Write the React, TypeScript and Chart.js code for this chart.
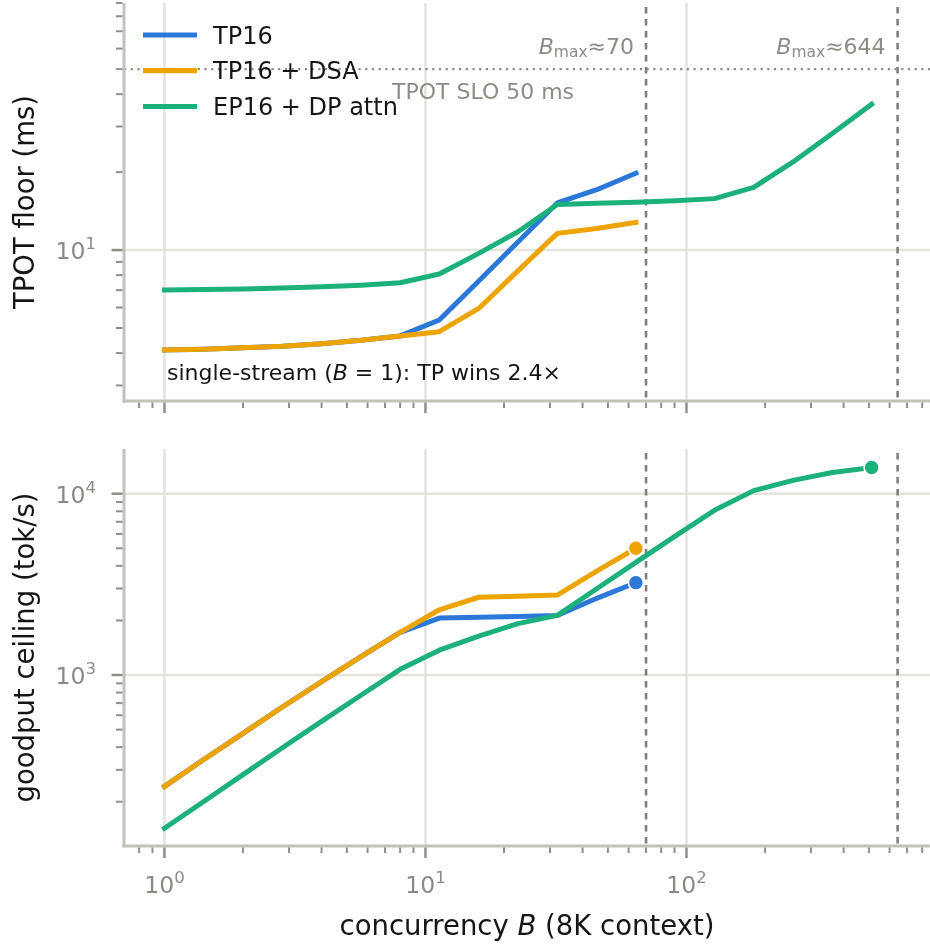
import React, { useEffect, useRef } from "react";
import { Chart, registerables } from "chart.js";

Chart.register(...registerables);

// ---------------- data ----------------
const B_TP = [1, 1.41, 2, 2.83, 4, 5.66, 8, 11.3, 16, 22.6, 32, 45.3, 64];
const B_EP = [1, 1.41, 2, 2.83, 4, 5.66, 8, 11.3, 16, 22.6, 32, 45.3, 64, 90.5, 128, 181, 256, 362, 512];

const TPOT_TP16 = [4.11, 4.14, 4.19, 4.25, 4.35, 4.48, 4.66, 5.37, 7.6, 10.74, 15.2, 17.1, 19.8];
const TPOT_TP16_DSA = [4.11, 4.14, 4.19, 4.25, 4.35, 4.48, 4.66, 4.84, 5.95, 8.31, 11.6, 12.12, 12.8];
const TPOT_EP16 = [7.01, 7.04, 7.08, 7.13, 7.21, 7.32, 7.48, 8.08, 9.71, 11.77, 15.0, 15.15, 15.3, 15.5, 15.8, 17.46, 21.9, 28.2, 36.6];

const GOODPUT_TP16 = [243, 341, 477, 666, 920, 1263, 1717, 2060, 2080, 2100, 2130, 2649, 3232];
const GOODPUT_TP16_DSA = [243, 341, 477, 666, 920, 1263, 1717, 2290, 2685, 2720, 2759, 3738, 5000];
const GOODPUT_EP16 = [142.7, 200, 282, 397, 555, 773, 1075, 1370, 1640, 1920, 2133, 2990, 4183, 5839, 8101, 10400, 11850, 13100, 13950];

const SERIES_NAMES = ["TP16", "TP16 + DSA", "EP16 + DP attn"];
const SERIES_COLORS = ["#2b78d9", "#eda300", "#1cb07a"];

const B_MAX = [70, 644];
const B_MAX_LABELS = ["70", "644"];
const TPOT_SLO = 50;

const X_RANGE = [0.724, 857];
const TOP_Y_RANGE = [2.612, 90];
const BOT_Y_RANGE = [114, 17645];

const X_MAJOR_EXP = [0, 1, 2];
const TOP_Y_MAJOR_EXP = [1];
const BOT_Y_MAJOR_EXP = [3, 4];

// ---------------- helpers ----------------
const FONT = (size: number, style = "") => `${style} ${size}px "DejaVu Sans"`;
const GRID = "#e4e4dc";
const SPINE = "#c2c2b9";
const TICK = "#8f8f8a";
const TICKLABEL = "#8a8a85";
const ANNOT = "#8c8c86";
const INK = "#151515";

type Run = { t: string; font: string; dy?: number };

function drawRuns(ctx: CanvasRenderingContext2D, runs: Run[], x: number, y: number, align: "left" | "center" | "right", color: string) {
  let w = 0;
  for (const r of runs) {
    ctx.font = r.font;
    w += ctx.measureText(r.t).width;
  }
  let cx = align === "left" ? x : align === "center" ? x - w / 2 : x - w;
  ctx.fillStyle = color;
  ctx.textAlign = "left";
  ctx.textBaseline = "alphabetic";
  for (const r of runs) {
    ctx.font = r.font;
    ctx.fillText(r.t, cx, y + (r.dy || 0));
    cx += ctx.measureText(r.t).width;
  }
}

function logTicks(min: number, max: number) {
  const out: { v: number; major: boolean }[] = [];
  for (let e = Math.floor(Math.log10(min)); e <= Math.ceil(Math.log10(max)); e++) {
    for (let m = 1; m < 10; m++) {
      const v = m * Math.pow(10, e);
      if (v >= min && v <= max) out.push({ v, major: m === 1 });
    }
  }
  return out;
}

function powLabel(e: number): Run[] {
  return [
    { t: "10", font: FONT(23.5) },
    { t: String(e), font: FONT(16.5), dy: -10 },
  ];
}

function line(ctx: CanvasRenderingContext2D, x1: number, y1: number, x2: number, y2: number) {
  ctx.beginPath();
  ctx.moveTo(x1, y1);
  ctx.lineTo(x2, y2);
  ctx.stroke();
}

function drawBackground(chart: any, yMajorExp: number[], withSlo: boolean) {
  const ctx: CanvasRenderingContext2D = chart.ctx;
  const a = chart.chartArea;
  const xs = chart.scales.x;
  const ys = chart.scales.y;
  ctx.save();
  ctx.strokeStyle = GRID;
  ctx.lineWidth = 2.5;
  for (const e of X_MAJOR_EXP) {
    const px = xs.getPixelForValue(Math.pow(10, e));
    line(ctx, px, a.top, px, a.bottom);
  }
  for (const e of yMajorExp) {
    const py = ys.getPixelForValue(Math.pow(10, e));
    line(ctx, a.left, py, a.right, py);
  }
  // B_max dashed lines
  ctx.strokeStyle = "#7f7f7f";
  ctx.lineWidth = 2.6;
  ctx.setLineDash([6.5, 5.5]);
  for (const b of B_MAX) {
    const px = xs.getPixelForValue(b);
    line(ctx, px, a.top + 4, px, a.bottom);
  }
  if (withSlo) {
    ctx.strokeStyle = "#8a8a8a";
    ctx.lineWidth = 2.2;
    ctx.setLineDash([2.2, 4.5]);
    const py = ys.getPixelForValue(TPOT_SLO);
    line(ctx, a.left, py, a.right, py);
  }
  ctx.restore();
}

function drawAxes(chart: any, yMajorExp: number[], yRange: number[], xLabels: boolean) {
  const ctx: CanvasRenderingContext2D = chart.ctx;
  const a = chart.chartArea;
  const xs = chart.scales.x;
  const ys = chart.scales.y;
  ctx.save();
  // spines
  ctx.strokeStyle = SPINE;
  ctx.lineWidth = 3;
  ctx.lineCap = "butt";
  line(ctx, a.left, a.top, a.left, a.bottom + 1.5);
  line(ctx, a.left - 1.5, a.bottom, a.right, a.bottom);
  // ticks
  ctx.strokeStyle = TICK;
  for (const t of logTicks(X_RANGE[0], X_RANGE[1])) {
    const px = xs.getPixelForValue(t.v);
    ctx.lineWidth = t.major ? 2.5 : 2;
    line(ctx, px, a.bottom + 1.5, px, a.bottom + 1.5 + (t.major ? 10.5 : 5.5));
  }
  for (const t of logTicks(yRange[0], yRange[1])) {
    const py = ys.getPixelForValue(t.v);
    ctx.lineWidth = t.major ? 2.5 : 2;
    line(ctx, a.left - 1.5, py, a.left - 1.5 - (t.major ? 11 : 6.5), py);
  }
  // tick labels
  for (const e of yMajorExp) {
    const py = ys.getPixelForValue(Math.pow(10, e));
    drawRuns(ctx, powLabel(e), 96, py + 9, "right", TICKLABEL);
  }
  if (xLabels) {
    for (const e of X_MAJOR_EXP) {
      const px = xs.getPixelForValue(Math.pow(10, e));
      drawRuns(ctx, powLabel(e), px, a.bottom + 47, "center", TICKLABEL);
    }
  }
  ctx.restore();
}

function drawYTitle(chart: any, text: string) {
  const ctx: CanvasRenderingContext2D = chart.ctx;
  const a = chart.chartArea;
  ctx.save();
  ctx.translate(34, (a.top + a.bottom) / 2);
  ctx.rotate(-Math.PI / 2);
  ctx.font = FONT(27.5);
  ctx.fillStyle = INK;
  ctx.textAlign = "center";
  ctx.textBaseline = "alphabetic";
  ctx.fillText(text, 0, 0);
  ctx.restore();
}

const topPlugin = {
  id: "topDecor",
  beforeDatasetsDraw(chart: any) {
    drawBackground(chart, TOP_Y_MAJOR_EXP, true);
  },
  afterDatasetsDraw(chart: any) {
    const ctx: CanvasRenderingContext2D = chart.ctx;
    const xs = chart.scales.x;
    const ys = chart.scales.y;
    drawAxes(chart, TOP_Y_MAJOR_EXP, TOP_Y_RANGE, false);
    drawYTitle(chart, "TPOT floor (ms)");
    ctx.save();
    // B_max labels
    B_MAX.forEach((b, i) => {
      const px = xs.getPixelForValue(b);
      drawRuns(
        ctx,
        [
          { t: "B", font: FONT(22, "italic") },
          { t: "max", font: FONT(15.5), dy: 3.5 },
          { t: "≈" + B_MAX_LABELS[i], font: FONT(22) },
        ],
        px - 12,
        53.5,
        "right",
        ANNOT
      );
    });
    // SLO label
    const sloY = ys.getPixelForValue(TPOT_SLO);
    drawRuns(ctx, [{ t: "TPOT SLO " + TPOT_SLO + " ms", font: FONT(22) }], 392, sloY + 30, "left", ANNOT);
    // single-stream note
    drawRuns(
      ctx,
      [
        { t: "single-stream (", font: FONT(22) },
        { t: "B", font: FONT(22, "italic") },
        { t: " = ", font: FONT(22) },
        { t: "1", font: FONT(22) },
        { t: "): TP wins 2.4×", font: FONT(22) },
      ],
      167,
      380,
      "left",
      INK
    );
    // legend
    const rows = [35, 70.7, 106.5];
    SERIES_NAMES.forEach((name, i) => {
      ctx.strokeStyle = SERIES_COLORS[i];
      ctx.lineWidth = 5.2;
      ctx.setLineDash([]);
      ctx.lineCap = "butt";
      line(ctx, 143, rows[i], 197, rows[i]);
      drawRuns(ctx, [{ t: name, font: FONT(24) }], 213, rows[i] + 8.7, "left", INK);
    });
    ctx.restore();
  },
};

const botPlugin = {
  id: "botDecor",
  beforeDatasetsDraw(chart: any) {
    drawBackground(chart, BOT_Y_MAJOR_EXP, false);
  },
  afterDatasetsDraw(chart: any) {
    const ctx: CanvasRenderingContext2D = chart.ctx;
    const a = chart.chartArea;
    drawAxes(chart, BOT_Y_MAJOR_EXP, BOT_Y_RANGE, true);
    drawYTitle(chart, "goodput ceiling (tok/s)");
    drawRuns(
      ctx,
      [
        { t: "concurrency ", font: FONT(27.5) },
        { t: "B", font: FONT(27.5, "italic") },
        { t: " (8K context)", font: FONT(27.5) },
      ],
      (a.left + a.right) / 2,
      a.bottom + 89,
      "center",
      INK
    );
  },
};

function makeDataset(i: number, xs: number[], ys: number[], markLast: boolean) {
  const last = xs.length - 1;
  return {
    label: SERIES_NAMES[i],
    data: xs.map((x, k) => ({ x, y: ys[k] })),
    borderColor: SERIES_COLORS[i],
    backgroundColor: SERIES_COLORS[i],
    pointBackgroundColor: SERIES_COLORS[i],
    pointBorderColor: "#ffffff",
    pointBorderWidth: 1.6,
    pointRadius: (c: any) => (markLast && c.dataIndex === last ? 7.5 : 0),
    pointHoverRadius: 0,
    borderWidth: 5,
    borderJoinStyle: "round" as const,
    borderCapStyle: "square" as const,
    tension: 0,
    fill: false,
    order: 3 - i,
  };
}

function baseOptions(yRange: number[], padding: any) {
  return {
    responsive: false,
    animation: false as const,
    devicePixelRatio: 1,
    events: [] as any[],
    layout: { padding, autoPadding: false },
    scales: {
      x: { type: "logarithmic" as const, min: X_RANGE[0], max: X_RANGE[1], display: false },
      y: { type: "logarithmic" as const, min: yRange[0], max: yRange[1], display: false },
    },
    plugins: { legend: { display: false }, tooltip: { enabled: false } },
  };
}

export default function App() {
  const topRef = useRef<HTMLCanvasElement>(null);
  const botRef = useRef<HTMLCanvasElement>(null);

  useEffect(() => {
    const c1 = new Chart(topRef.current as HTMLCanvasElement, {
      type: "line",
      data: {
        datasets: [
          makeDataset(0, B_TP, TPOT_TP16, false),
          makeDataset(1, B_TP, TPOT_TP16_DSA, false),
          makeDataset(2, B_EP, TPOT_EP16, false),
        ] as any,
      },
      options: baseOptions(TOP_Y_RANGE, { left: 124, right: 0, top: 3, bottom: 19 }) as any,
      plugins: [topPlugin],
    });
    const c2 = new Chart(botRef.current as HTMLCanvasElement, {
      type: "line",
      data: {
        datasets: [
          makeDataset(0, B_TP, GOODPUT_TP16, true),
          makeDataset(1, B_TP, GOODPUT_TP16_DSA, true),
          makeDataset(2, B_EP, GOODPUT_EP16, true),
        ] as any,
      },
      options: baseOptions(BOT_Y_RANGE, { left: 124, right: 0, top: 29, bottom: 98 }) as any,
      plugins: [botPlugin],
    });
    return () => {
      c1.destroy();
      c2.destroy();
    };
  }, []);

  return (
    <div style={{ position: "absolute", left: 0, top: 0, width: 930, height: 944, background: "#ffffff" }}>
      <canvas ref={topRef} width={930} height={420} style={{ position: "absolute", left: 0, top: 0, width: 930, height: 420 }} />
      <canvas ref={botRef} width={930} height={524} style={{ position: "absolute", left: 0, top: 420, width: 930, height: 524 }} />
    </div>
  );
}
